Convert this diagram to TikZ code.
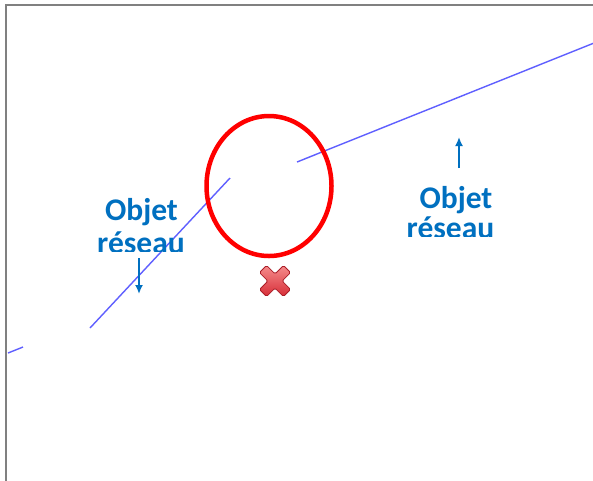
\documentclass[tikz,border=0pt]{standalone}
\usepackage{fontspec}
\setmainfont{Carlito}
\usetikzlibrary{arrows.meta,shapes.geometric}
\definecolor{lblblue}{RGB}{0,112,192}
\definecolor{netblue}{RGB}{95,95,255}
\definecolor{xdark}{RGB}{170,30,40}
\definecolor{xlight}{RGB}{245,140,140}
\definecolor{xmid}{RGB}{215,45,55}
\tikzset{
  lbl/.style={font=\fontsize{31.5}{36}\selectfont\bfseries, text=lblblue, inner sep=0pt, anchor=base},
  netline/.style={draw=netblue, line width=1.4pt},
  callout/.style={draw=lblblue, line width=2pt, -{Latex[length=9pt,width=8pt]}},
  frame/.style={draw=gray, line width=2pt},
  ring/.style={draw=red, line width=4.5pt, ellipse, inner sep=0pt, minimum width=125pt, minimum height=140pt},
  cross/.style={draw=xdark, line width=0.8pt, top color=xlight, bottom color=xmid, rounded corners=1.5pt}
}
\begin{document}
\begin{tikzpicture}[x=1pt,y=-1pt]
\useasboundingbox (0,0) rectangle (593,480);
\fill[white] (0,0) rectangle (593,480);
% frame
\draw[frame] (6,481) -- (6,5) -- (594,5);
% network lines
\coordinate (a1) at (8,353);
\coordinate (a2) at (23,347);
\coordinate (b1) at (90,328);
\coordinate (b2) at (230,178);
\coordinate (c1) at (297,162);
\coordinate (c2) at (594,43);
\draw[netline] (a1) -- (a2);
\draw[netline] (b1) -- (b2);
\draw[netline] (c1) -- (c2);
% red ellipse
\node[ring] (ring) at (269,186) {};
% red cross
\begin{scope}[shift={(275,281)}, rotate=45]
\path[cross] (5,17) -- (5,5) -- (17,5) -- (17,-5) -- (5,-5) -- (5,-17) -- (-5,-17) -- (-5,-5) -- (-17,-5) -- (-17,5) -- (-5,5) -- (-5,17) -- cycle;
\end{scope}
% left label
\node[lbl] (l1) at (141.5,220) {Objet};
\begin{scope}
\clip (60,224) rectangle (230,251);
\node[lbl] (l2) at (141,253) {réseau};
\end{scope}
\coordinate (la1) at (139,258);
\coordinate (la2) at (139,294);
\draw[callout] (la1) -- (la2);
% right label
\node[lbl] (r1) at (456,208) {Objet};
\begin{scope}
\clip (380,211) rectangle (540,236);
\node[lbl] (r2) at (450.5,238) {réseau};
\end{scope}
\coordinate (ra1) at (459,168);
\coordinate (ra2) at (459,137);
\draw[callout] (ra1) -- (ra2);
\end{tikzpicture}
\end{document}
